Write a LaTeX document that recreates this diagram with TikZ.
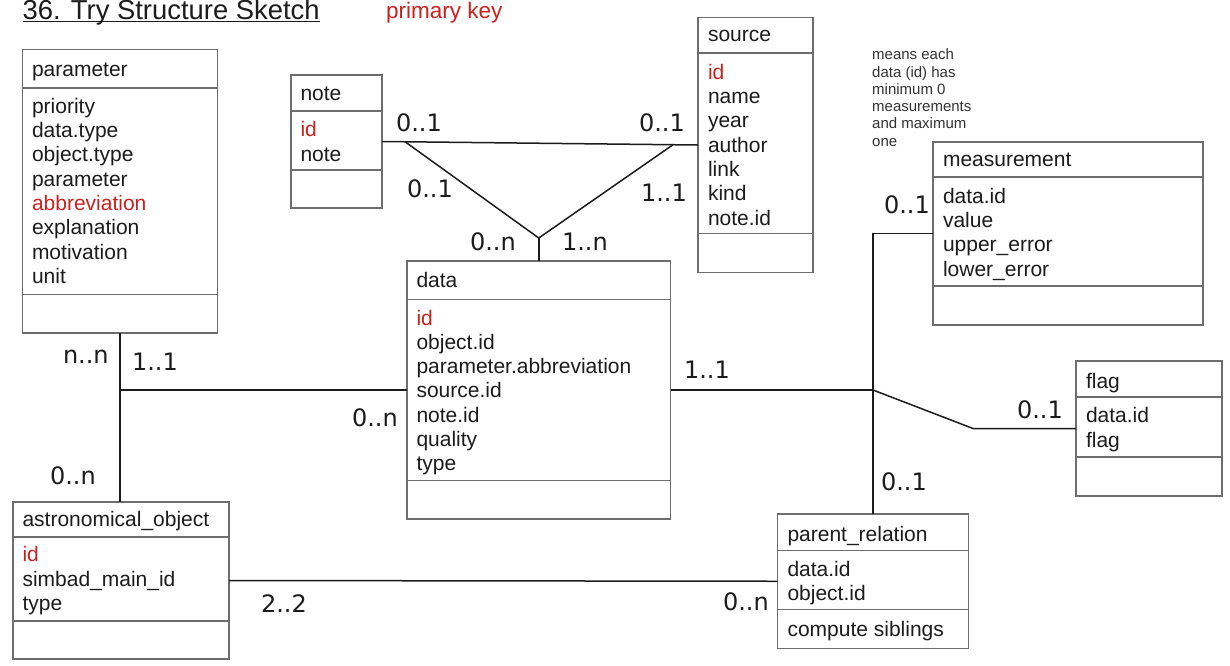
\documentclass[tikz,border=0pt]{standalone}
\usepackage{fontspec}
\setmainfont{Liberation Sans}
\newfontfamily\cardfont{DejaVu Sans}
\usetikzlibrary{calc}

\definecolor{ink}{HTML}{1C1C1C}
\definecolor{boxline}{HTML}{6E6E6E}
\definecolor{keyred}{HTML}{C9211E}
\definecolor{notegray}{HTML}{333333}

\tikzset{
  entity/.style={draw=boxline, line width=1.3pt, anchor=north west, inner sep=0pt, outer sep=0pt},
  divider/.style={draw=boxline, line width=1.3pt},
  heading/.style={anchor=base west, inner sep=0pt, outer sep=0pt, text=ink, font=\fontsize{21}{24.3}\selectfont},
  fields/.style={anchor=north west, align=left, inner sep=0pt, outer sep=0pt, text=ink, font=\fontsize{21}{24.3}\selectfont},
  card/.style={anchor=base west, inner sep=0pt, outer sep=0pt, text=ink, font=\cardfont\fontsize{24}{28}\selectfont},
  link/.style={draw=ink, line width=1.5pt},
}

\begin{document}
\begin{tikzpicture}[x=1pt, y=-1pt]
  % page
  \path[fill=white, use as bounding box] (0,0) rectangle (1230,665);

  % heading of the sheet
  \node[anchor=base west, inner sep=0pt, text=ink, font=\fontsize{27.4}{32}\selectfont] (title) at (22.5,19.8) {36. Try Structure Sketch\ };
  \draw[ink, line width=1.6pt] ([yshift=-1.6pt]title.base west) -- ([yshift=-1.6pt]title.base east);
  \node[anchor=base west, inner sep=0pt, text=keyred, font=\fontsize{22.5}{26}\selectfont] (keynote) at (386,18.8) {primary key};

  \node[anchor=north west, align=left, inner sep=0pt, text=notegray, font=\fontsize{15}{17.3}\selectfont] (remark) at (872,47.4)
    {\strut means each\\data (id) has\\minimum 0\\measurements\\and maximum\\one};

  % ---------- entities ----------
  % parameter
  \node[entity, minimum width=195pt, minimum height=283.5pt] (parameter) at (22.5,49.5) {};
  \draw[divider] (22.5,88) -- (217.5,88);
  \draw[divider] (22.5,294.5) -- (217.5,294.5);
  \node[heading] (parameter-name) at (32,76.7) {parameter};
  \node[fields] (parameter-fields) at (32,96.3)
    {\strut priority\\data.type\\object.type\\parameter\\\textcolor{keyred}{abbreviation}\\explanation\\motivation\\unit};

  % note
  \node[entity, minimum width=91pt, minimum height=133pt] (note) at (291,75) {};
  \draw[divider] (291,111) -- (382,111);
  \draw[divider] (291,170) -- (382,170);
  \node[heading] (note-name) at (300.5,100) {note};
  \node[fields] (note-fields) at (300.5,119.7) {\strut\textcolor{keyred}{id}\\note};

  % source
  \node[entity, minimum width=115pt, minimum height=255pt] (source) at (698,17.5) {};
  \draw[divider] (698,53) -- (813,53);
  \draw[divider] (698,233.5) -- (813,233.5);
  \node[heading] (source-name) at (708,41.7) {source};
  \node[fields] (source-fields) at (708,62.3)
    {\strut\textcolor{keyred}{id}\\name\\year\\author\\link\\kind\\note.id};

  % data
  \node[entity, minimum width=263.5pt, minimum height=258pt] (data) at (407,261) {};
  \draw[divider] (407,299.3) -- (670.5,299.3);
  \draw[divider] (407,480.5) -- (670.5,480.5);
  \node[heading] (data-name) at (416.5,287.7) {data};
  \node[fields] (data-fields) at (416.5,308)
    {\strut\textcolor{keyred}{id}\\object.id\\parameter.abbreviation\\source.id\\note.id\\quality\\type};

  % measurement
  \node[entity, minimum width=270pt, minimum height=183pt] (measurement) at (933,142) {};
  \draw[divider] (933,177) -- (1203,177);
  \draw[divider] (933,286) -- (1203,286);
  \node[heading] (measurement-name) at (943,166.7) {measurement};
  \node[fields] (measurement-fields) at (943,186.3)
    {\strut data.id\\value\\upper\_error\\lower\_error};

  % flag
  \node[entity, minimum width=146pt, minimum height=135pt] (flag) at (1076,361) {};
  \draw[divider] (1076,397) -- (1222,397);
  \draw[divider] (1076,457) -- (1222,457);
  \node[heading] (flag-name) at (1086,388) {flag};
  \node[fields] (flag-fields) at (1086,405.7) {\strut data.id\\flag};

  % parent_relation
  \node[entity, minimum width=191pt, minimum height=134.5pt] (parent) at (777.5,514) {};
  \draw[divider] (777.5,550.5) -- (968.5,550.5);
  \draw[divider] (777.5,609.5) -- (968.5,609.5);
  \node[heading] (parent-name) at (787.5,541.7) {parent\_relation};
  \node[fields] (parent-fields) at (787.5,559) {\strut data.id\\object.id};
  \node[heading] (parent-method) at (787.5,636) {compute siblings};

  % astronomical_object
  \node[entity, minimum width=216pt, minimum height=157pt] (astro) at (13,502) {};
  \draw[divider] (13,537) -- (229,537);
  \draw[divider] (13,621) -- (229,621);
  \node[heading] (astro-name) at (22.5,526.7) {astronomical\_object};
  \node[fields] (astro-fields) at (22.5,544.7)
    {\strut\textcolor{keyred}{id}\\simbad\_main\_id\\type};

  % ---------- relations ----------
  \draw[link] (parameter.south) -- (parameter.south |- astro.north);
  \draw[link] (parameter.south |- data.west) -- (data.west);

  \draw[link] (note.east) -- (source.west);
  \coordinate (fork) at ([yshift=23pt]data.north);
  \draw[link] ($(note.east)!0.073!(source.west)$) -- (fork) -- ($(note.east)!0.921!(source.west)$);
  \draw[link] (fork) -- (data.north);

  \coordinate (hub) at (data.east -| parent.north);
  \draw[link] (data.east) -- (hub);
  \draw[link] (parent.north) -- (hub |- measurement.west) -- (measurement.west);
  \draw[link] (hub) -- ([xshift=-103pt]flag.west) -- (flag.west);

  \draw[link] (astro.east) -- (parent.west);

  % ---------- multiplicities ----------
  \node[card] (m-note-source)  at (396,131.7) {0..1};
  \node[card] (m-source-note)  at (639,131.7) {0..1};
  \node[card] (m-note-data)    at (407,197.3) {0..1};
  \node[card] (m-source-data)  at (641,201.7) {1..1};
  \node[card] (m-data-note)    at (470,250)   {0..n};
  \node[card] (m-data-source)  at (562,250)   {1..n};
  \node[card] (m-param-astro)  at (63,363.3)  {n..n};
  \node[card] (m-param-data)   at (132,370)   {1..1};
  \node[card] (m-data-param)   at (352,426.7) {0..n};
  \node[card] (m-astro-param)  at (50,484.3)  {0..n};
  \node[card] (m-astro-parent) at (261,612.7) {2..2};
  \node[card] (m-data-hub)     at (684,378.3) {1..1};
  \node[card] (m-flag)         at (1017,418.3) {0..1};
  \node[card] (m-parent)       at (881,490)   {0..1};
  \node[card] (m-parent-astro) at (723,610)   {0..n};
  \node[card] (m-measurement)  at (884,213.3) {0..1};
\end{tikzpicture}
\end{document}
